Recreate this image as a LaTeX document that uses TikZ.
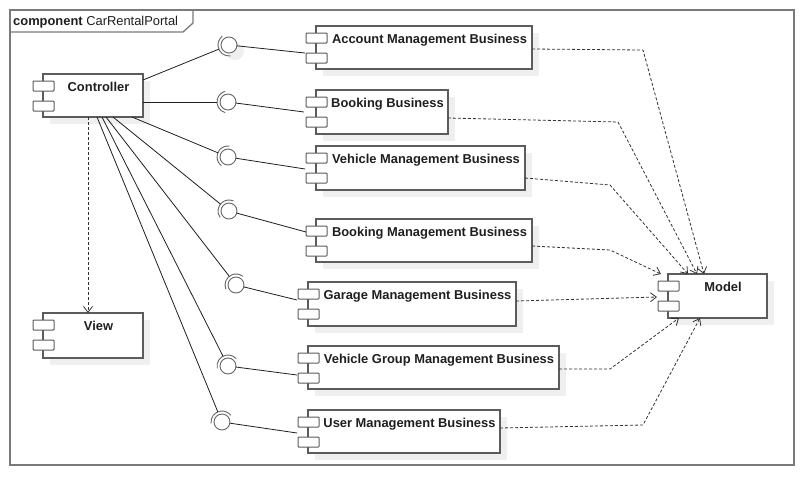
\documentclass[tikz,border=0pt]{standalone}
\usepackage{fontspec}
\setmainfont{Liberation Sans}
\usetikzlibrary{arrows.meta,calc}
\definecolor{bordc}{HTML}{5C5C5C}
\definecolor{shadc}{HTML}{EFEFEF}
\definecolor{framec}{HTML}{7A7A7A}
\tikzset{
  compbody/.style={draw=bordc, line width=1.1pt, fill=white, rectangle, inner sep=0pt, outer sep=0pt},
  compport/.style={draw=bordc, line width=1pt, fill=white, rounded corners=0.8pt},
  comptext/.style={font={\fontsize{12.9}{15}\selectfont\bfseries}, inner sep=0pt, anchor=base, text=black!88},
  ballnode/.style={circle, draw=black!60, line width=0.9pt, minimum size=16pt, inner sep=0pt, outer sep=0pt, fill=white},
  socketnode/.style={circle, minimum size=22pt, inner sep=0pt, outer sep=0pt},
  sockarc/.style={draw=black!60, line width=0.9pt},
  wire/.style={draw=black!88, line width=0.8pt},
  dep/.style={draw=black!80, line width=0.8pt, dash pattern=on 3pt off 2pt, -{Straight Barb[length=6pt,width=9pt]}},
  framebox/.style={draw=framec, line width=1.3pt},
}
% name, left, top, right, bottom, text
\newcommand\umlcomp[6]{%
  \fill[shadc] (#2+7,#3+7) rectangle (#4+7,#5+7);
  \node[compbody, minimum width={#4-#2}, minimum height={#5-#3}] (#1) at ({(#2+#4)/2},{(#3+#5)/2}) {};
  \node[comptext] (#1-t) at ({(#2+#4)/2+5.5},{#3+17.3}) {#6};
  \draw[compport] (#2-10,#3+7) rectangle (#2+11,#3+17);
  \draw[compport] (#2-10,#3+27) rectangle (#2+11,#3+37);
}
% name, x, y, screen angle toward consumer
\newcommand\umlsocket[4]{%
  \node[socketnode] (#1s) at (#2,#3) {};
  \draw[sockarc] ([shift={({#4-75}:11)}]#1s.center) arc[start angle={#4-75}, end angle={#4+75}, radius=11];
  \node[ballnode] (#1) at (#2,#3) {};
}
\begin{document}
\begin{tikzpicture}[x=1pt,y=-1pt]
\useasboundingbox[fill=white] (0,0) rectangle (804,480);
% frame
\draw[framebox] (10,10) rectangle (794,465);
\draw[framebox] (10,32) -- (183,32) -- (193,23) -- (193,10);
\node[anchor=base west, inner sep=0pt, font={\fontsize{12.9}{15}\selectfont}, text=black!88] (title) at (13,25.5) {\textbf{component} CarRentalPortal};

% components
\umlcomp{ctrl}{43}{74}{143}{117}{Controller}
\umlcomp{view}{43}{313}{143}{358}{View}
\umlcomp{acc}{316}{26}{532}{69}{Account Management Business}
\umlcomp{book}{316}{90}{448}{134}{Booking Business}
\umlcomp{veh}{316}{146}{525}{190}{Vehicle Management Business}
\umlcomp{bkm}{316}{219}{532}{262}{Booking Management Business}
\umlcomp{gar}{308}{282}{516}{326}{Garage Management Business}
\umlcomp{vgm}{308}{346}{559}{389}{Vehicle Group Management Business}
\umlcomp{usr}{308}{410}{500}{453}{User Management Business}
\umlcomp{model}{668}{274}{767}{318}{Model}

% interfaces (ball and socket)
\fill[shadc] (235,51) circle (9);
\umlsocket{i1}{229}{45}{157.9}
\umlsocket{i2}{228}{102}{180}
\umlsocket{i3}{228}{157}{202.6}
\umlsocket{i4}{229}{211}{219}
\umlsocket{i5}{236}{285}{232.3}
\umlsocket{i6}{228}{366}{243.2}
\umlsocket{i7}{222}{422}{247.7}

% controller attachment points
\coordinate (c1) at (143,80);
\coordinate (c2) at (143,102);
\coordinate (c3) at (132,117);
\coordinate (c4) at (113,117);
\coordinate (c5) at (106,117);
\coordinate (c6) at (102,117);
\coordinate (c7) at (97,117);
% component attachment points
\coordinate (p1) at (305,53);
\coordinate (p2) at (304,112);
\coordinate (p3) at (305,169);
\coordinate (p4) at (306,232);
\coordinate (p5) at (297,300);
\coordinate (p6) at (297,375);
\coordinate (p7) at (297,433);

\foreach \k in {1,...,7}{
  \draw[wire] (c\k) -- (i\k s);
  \draw[wire] (i\k) -- (p\k);
}

% dependencies
\draw[dep] (ctrl.south -| 88,0) -- (view.north -| 88,0);
\draw[dep] (acc.east |- 0,49) -- (643,50) -- (704,274);
\draw[dep] (book.east |- 0,118) -- (618,122) -- (697,274);
\draw[dep] (veh.east |- 0,178) -- (610,185) -- (688,274);
\draw[dep] (bkm.east |- 0,246) -- (610,250) -- (661,274);
\draw[dep] (gar.east |- 0,301) -- (657,297);
\draw[dep] (vgm.east |- 0,369) -- (610,369) -- (679,318);
\draw[dep] (usr.east |- 0,428) -- (643,425) -- (700,318);
\end{tikzpicture}
\end{document}
